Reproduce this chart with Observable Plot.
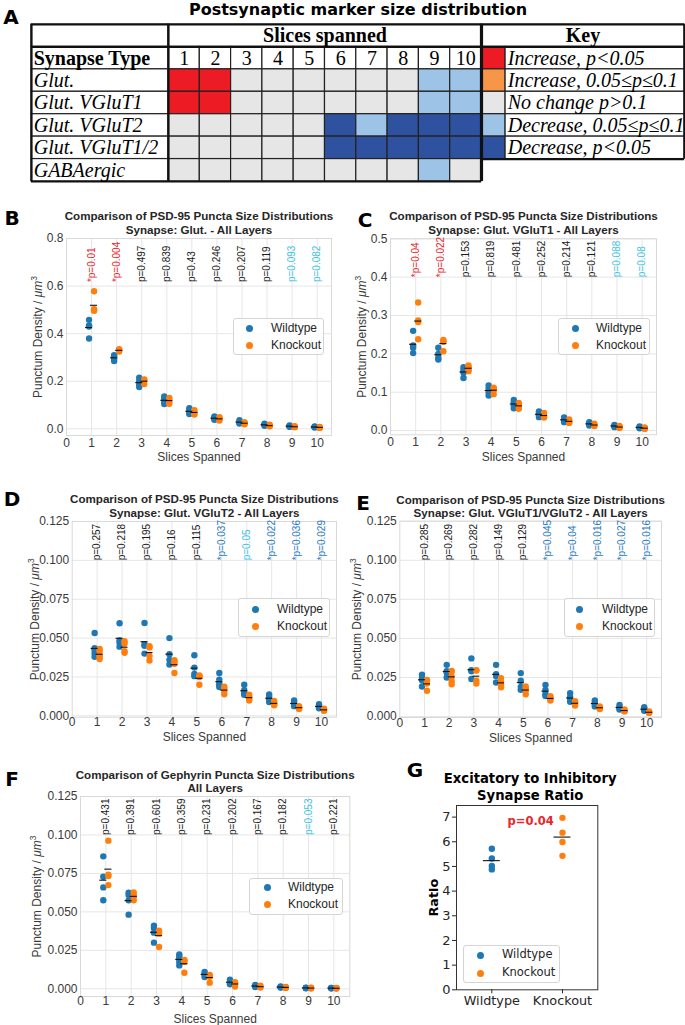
<!DOCTYPE html>
<html>
<head>
<meta charset="utf-8">
<script src="https://cdn.jsdelivr.net/npm/d3@7"></script>
<script src="https://cdn.jsdelivr.net/npm/@observablehq/plot@0.6"></script>
<style>
html,body{margin:0;padding:0;background:#fff;}
#page{position:relative;width:685px;height:1025px;overflow:hidden;background:#fff;}
#page svg{position:absolute;overflow:visible;}
.letter{position:absolute;font-family:"DejaVu Sans",sans-serif;font-weight:bold;font-size:20px;line-height:20px;color:#000;transform:translate(-50%,-50%);}
.legend{position:absolute;box-sizing:border-box;border:1px solid #d4d4d4;border-radius:3px;background:rgba(255,255,255,0.85);}
.legend .dot{position:absolute;width:7px;height:7px;border-radius:50%;}
.legend .txt{position:absolute;line-height:1;white-space:nowrap;color:#262626;}
</style>
</head>
<body>
<div id="page"></div>
<script>
// ---------------- DATA ----------------
const slices = [1,2,3,4,5,6,7,8,9,10];
const genotypes = ["Wildtype","Knockout"];
const genotypeColors = ["#1f77b4","#ff7f0e"];

const synapseTypes = ["Glut.","Glut. VGluT1","Glut. VGluT2","Glut. VGluT1/2","GABAergic"];
const keyLabels = ["Increase, p<0.05","Increase, 0.05≤p≤0.1","No change p>0.1","Decrease, 0.05≤p≤0.1","Decrease, p<0.05"];
const keyColors = ["#ed1c24","#f79646","#e6e6e6","#9dc3e6","#2f52a0"];

// B: Glut.
const glutWT = [[0.458,0.435,0.43,0.38],[0.31,0.305,0.295,0.285],[0.215,0.2,0.185,0.176],[0.136,0.127,0.113,0.104],[0.087,0.078,0.068,0.062],[0.052,0.047,0.042,0.038],[0.036,0.03,0.025,0.022],[0.022,0.018,0.015,0.013],[0.014,0.012,0.01,0.009],[0.01,0.008,0.007,0.006]];
const glutKO = [[0.578,0.503,0.5,0.496],[0.335,0.332,0.328,0.325],[0.208,0.205,0.2,0.188],[0.13,0.125,0.115,0.105],[0.078,0.072,0.065,0.06],[0.049,0.044,0.04,0.035],[0.028,0.025,0.022,0.019],[0.017,0.014,0.012,0.011],[0.011,0.009,0.008,0.007],[0.008,0.006,0.005,0.005]];
const glutP = ["0.01","0.004","0.497","0.839","0.43","0.246","0.207","0.119","0.093","0.082"];

// C: Glut. VGluT1
const vglut1WT = [[0.26,0.222,0.216,0.202],[0.216,0.2,0.19,0.185],[0.165,0.158,0.151,0.137],[0.1175,0.109,0.1,0.0914],[0.08,0.074,0.065,0.058],[0.05,0.045,0.04,0.035],[0.034,0.03,0.026,0.022],[0.022,0.019,0.016,0.013],[0.015,0.013,0.011,0.009],[0.011,0.009,0.007,0.006]];
const vglut1KO = [[0.334,0.287,0.283,0.238],[0.236,0.232,0.232,0.207],[0.17,0.165,0.16,0.155],[0.112,0.108,0.106,0.095],[0.072,0.067,0.062,0.057],[0.046,0.04,0.037,0.034],[0.029,0.025,0.022,0.02],[0.018,0.015,0.013,0.012],[0.012,0.01,0.008,0.007],[0.008,0.007,0.005,0.005]];
const vglut1P = ["0.04","0.022","0.153","0.819","0.481","0.252","0.214","0.121","0.088","0.08"];

// D: Glut. VGluT2
const vglut2WT = [[0.0533,0.0435,0.042,0.040,0.038],[0.0595,0.0485,0.047,0.0445],[0.0597,0.046,0.045,0.040],[0.05,0.0396,0.036,0.033],[0.039,0.031,0.027,0.0255],[0.0275,0.0233,0.021,0.0195,0.0185],[0.02,0.0165,0.0145,0.0135],[0.0138,0.0121,0.0104,0.0089],[0.0098,0.0085,0.0072,0.0062],[0.0075,0.0064,0.0055,0.0048]];
const vglut2KO = [[0.043,0.0415,0.039,0.038,0.0365],[0.048,0.0465,0.0415,0.0405],[0.0447,0.044,0.0385,0.0355],[0.0357,0.0347,0.0335,0.0275],[0.026,0.0255,0.025,0.02],[0.0187,0.0175,0.016,0.0138],[0.0135,0.0122,0.0112,0.0098],[0.0095,0.0082,0.0075,0.0068],[0.0062,0.0055,0.005,0.0043],[0.0045,0.004,0.0036,0.0032]];
const vglut2P = ["0.257","0.218","0.195","0.16","0.115","0.037","0.05","0.022","0.036","0.029"];

// E: Glut. VGluT1/VGluT2
const vglut12WT = [[0.0268,0.025,0.0232,0.0192],[0.0331,0.029,0.0282,0.025],[0.0372,0.0297,0.029,0.024],[0.0331,0.0271,0.026,0.0218],[0.0278,0.0229,0.019,0.0172],[0.0203,0.017,0.0145,0.0132],[0.015,0.0125,0.0105,0.0095],[0.0103,0.0088,0.0078,0.0065],[0.0075,0.0062,0.0052,0.0045],[0.006,0.005,0.0042,0.0037]];
const vglut12KO = [[0.0235,0.0225,0.0212,0.0165],[0.0292,0.0288,0.0255,0.0228,0.0207],[0.0297,0.0295,0.0229,0.0212],[0.0246,0.0222,0.0207,0.0188],[0.0192,0.018,0.0165,0.0142],[0.013,0.0122,0.011,0.0102],[0.0098,0.009,0.0082,0.007],[0.0065,0.006,0.0053,0.0048],[0.0045,0.004,0.0036,0.0033],[0.0033,0.0028,0.0025,0.0024]];
const vglut12P = ["0.285","0.269","0.282","0.149","0.129","0.045","0.04","0.016","0.027","0.016"];

// F: GABAergic (Gephyrin)
const gabaWT = [[0.0861,0.0728,0.0659,0.0576],[0.0625,0.061,0.0575,0.0482],[0.041,0.0395,0.0365,0.03],[0.0224,0.021,0.0195,0.0174,0.0152],[0.011,0.0098,0.009,0.0077],[0.006,0.0045,0.0037,0.003],[0.0025,0.002,0.0016,0.0012],[0.0015,0.0012,0.001,0.0008],[0.0008,0.0006,0.0005,0.0004],[0.0006,0.0005,0.0004,0.0003]];
const gabaKO = [[0.0963,0.0741,0.0733,0.0674],[0.0626,0.0605,0.0598,0.0575],[0.0378,0.0372,0.036,0.0272],[0.0188,0.0185,0.0175,0.0104],[0.009,0.0085,0.0078,0.004],[0.0043,0.0038,0.003,0.0015],[0.002,0.0016,0.0012,0.0008],[0.0012,0.001,0.0008,0.0006],[0.0007,0.0005,0.0004,0.0003],[0.0005,0.0004,0.0003,0.0002]];
const gabaP = ["0.431","0.391","0.601","0.359","0.231","0.202","0.167","0.182","0.053","0.221"];

// G: Excitatory / inhibitory ratio
const ratioWT = [5.72,5.32,5.02,4.88];
const ratioKO = [6.97,6.37,5.99,5.43];
const ratioP = "0.04";

// ---------------- STYLE ----------------
const SANS = '"Liberation Sans", Arial, sans-serif';
const SERIF = '"Liberation Serif", "Times New Roman", serif';
const DEJAVU = '"DejaVu Sans", sans-serif';
const RED = "#e8262b", BLUE = "#2a7ac0", CYAN = "#41c3e2", DARK = "#1a1a1a";
const GRID = "#e6e6e6", FRAME = "#d9d9d9", INK = "#3a3a3a", TITLEINK = "#262626";
const YLAB = "Punctum Density / μm³";
const page = document.getElementById("page");

function place(svg, left, top){ svg.style.left = left + "px"; svg.style.top = top + "px"; page.appendChild(svg); return svg; }
function letter(ch, x, y){ const d = document.createElement("div"); d.className = "letter"; d.textContent = ch; d.style.left = x + "px"; d.style.top = y + "px"; page.appendChild(d); }
function addLegend(b, fam, fs){
  const div = document.createElement("div"); div.className = "legend";
  Object.assign(div.style, {left: b.x + "px", top: b.y + "px", width: b.w + "px", height: b.h + "px"});
  genotypes.forEach((g, i) => {
    const dot = document.createElement("div"); dot.className = "dot";
    Object.assign(dot.style, {left: (b.dx - 4.5) + "px", top: (b.r[i] - 4.5) + "px", background: genotypeColors[i]});
    const t = document.createElement("div"); t.className = "txt"; t.textContent = g;
    Object.assign(t.style, {left: (b.tx - 1) + "px", top: (b.r[i] - 1) + "px", fontFamily: fam, fontSize: fs + "px", transform: "translateY(-50%)"});
    div.append(dot, t);
  });
  page.appendChild(div);
}
function statusOf(p, up){ return p < 0.05 ? (up ? 0 : 4) : (p <= 0.1 ? (up ? 1 : 3) : 2); }
function italicUnit(svg){
  svg.querySelectorAll("text").forEach(t => {
    if (t.textContent === YLAB) {
      t.textContent = "Punctum Density / ";
      const ns = "http://www.w3.org/2000/svg";
      const a = document.createElementNS(ns, "tspan"); a.setAttribute("font-style", "italic"); a.textContent = "μm";
      const b = document.createElementNS(ns, "tspan"); b.setAttribute("dy", "-5"); b.setAttribute("font-size", "8.5"); b.textContent = "3";
      t.append(a, b);
    }
  });
}

// ---------------- PANEL A ----------------
const X0 = 0.5 - 4.377, X1 = 10.5 + 6.486, SW = 0.77;
const tablePanels = [
  {wt: glutWT, ko: glutKO, p: glutP},
  {wt: vglut1WT, ko: vglut1KO, p: vglut1P},
  {wt: vglut2WT, ko: vglut2KO, p: vglut2P},
  {wt: vglut12WT, ko: vglut12KO, p: vglut12P},
  {wt: gabaWT, ko: gabaKO, p: gabaP}
];
const cells = [];
tablePanels.forEach((d, r) => slices.forEach((s, i) => cells.push({
  col: s, row: r + 2,
  fill: keyColors[statusOf(+d.p[i], d3.mean(d.ko[i]) > d3.mean(d.wt[i]))]
})));
const cellStroke = {stroke: "#222", strokeWidth: 1.2};
const tText = {fontFamily: SERIF, fontSize: 20, fill: "#000", ariaLabel: "tabletext"};
const aSvg = Plot.plot({
  width: 685, height: 185, marginLeft: 31, marginRight: 1, marginTop: 24, marginBottom: 4,
  x: {domain: [X0, X1], axis: null}, y: {domain: [0, 7], reverse: true, axis: null},
  color: {type: "identity"},
  style: {background: "transparent", overflow: "visible"},
  marks: [
    Plot.rect(d3.range(0, 7), {x1: () => X0, x2: () => 0.5, y1: d => d, y2: d => d + 1, fill: "white", ...cellStroke}),
    Plot.rect([0], {x1: () => 0.5, x2: () => 10.5, y1: () => 0, y2: () => 1, fill: "white", ...cellStroke}),
    Plot.rect([0], {x1: () => 10.5, x2: () => X1, y1: () => 0, y2: () => 1, fill: "white", ...cellStroke}),
    Plot.rect(slices, {x1: d => d - 0.5, x2: d => d + 0.5, y1: () => 1, y2: () => 2, fill: "white", ...cellStroke}),
    Plot.rect(cells, {x1: d => d.col - 0.5, x2: d => d.col + 0.5, y1: "row", y2: d => d.row + 1, fill: "fill", ...cellStroke}),
    Plot.rect(keyLabels, {x1: () => 10.5, x2: () => 10.5 + SW, y1: (d, i) => i + 1, y2: (d, i) => i + 2, fill: (d, i) => keyColors[i], ...cellStroke}),
    Plot.rect(keyLabels, {x1: () => 10.5 + SW, x2: () => X1, y1: (d, i) => i + 1, y2: (d, i) => i + 2, fill: "white", ...cellStroke}),
    Plot.ruleX([X0, 0.5], {y1: () => 0, y2: () => 7, stroke: "#111", strokeWidth: 2.2}),
    Plot.ruleX([10.5], {y1: () => 0, y2: () => 7, stroke: "#111", strokeWidth: 3.2}),
    Plot.ruleX([X1], {y1: () => 0, y2: () => 6, stroke: "#111", strokeWidth: 2.2}),
    Plot.ruleY([0, 1], {x1: () => X0, x2: () => X1, stroke: "#111", strokeWidth: 2.2}),
    Plot.ruleY([6], {x1: () => 10.5, x2: () => X1, stroke: "#111", strokeWidth: 2.2}),
    Plot.ruleY([7], {x1: () => X0, x2: () => 10.5, stroke: "#111", strokeWidth: 2.2}),
    Plot.text(["Slices spanned"], {x: () => 5.5, y: () => 0.5, fontWeight: "bold", ...tText}),
    Plot.text(["Key"], {x: () => (10.5 + X1) / 2, y: () => 0.5, fontWeight: "bold", ...tText}),
    Plot.text(["Synapse Type"], {x: () => X0 + 0.07, y: () => 1.5, textAnchor: "start", fontWeight: "bold", ...tText}),
    Plot.text(slices, {x: d => d, y: () => 1.5, text: d => String(d), ...tText}),
    Plot.text(synapseTypes, {x: () => X0 + 0.07, y: (d, i) => i + 2.5, textAnchor: "start", fontStyle: "italic", ...tText}),
    Plot.text(keyLabels, {x: () => 10.5 + SW + 0.07, y: (d, i) => i + 1.5, textAnchor: "start", fontStyle: "italic", ...tText}),
    Plot.text(["Postsynaptic marker size distribution"], {frameAnchor: "top", dy: -15, lineAnchor: "middle", fontFamily: DEJAVU, fontWeight: "bold", fontSize: 16, fill: "#000"})
  ]
});
place(aSvg, 0, 0);
aSvg.querySelectorAll('g[aria-label="tabletext"] text').forEach(t => {
  const L = t.getComputedTextLength();
  if (L > 0) { t.setAttribute("textLength", (L * 0.93).toFixed(1)); t.setAttribute("lengthAdjust", "spacingAndGlyphs"); }
});

// ---------------- PANELS B-F ----------------
function slicePanel(c){
  const L = c.box;
  const pts = [], means = [];
  slices.forEach((s, i) => {
    c.wt[i].forEach(v => pts.push({x: s - 0.1, y: v, g: 0}));
    c.ko[i].forEach(v => pts.push({x: s + 0.1, y: v, g: 1}));
    means.push({x: s - 0.1, y: d3.mean(c.wt[i])}, {x: s + 0.1, y: d3.mean(c.ko[i])});
  });
  const labels = slices.map((s, i) => {
    const p = +c.p[i], up = d3.mean(c.ko[i]) > d3.mean(c.wt[i]);
    return {x: s, t: (p < 0.05 ? "*" : "") + "p=" + c.p[i], col: p < 0.05 ? (up ? RED : BLUE) : (p <= 0.1 ? CYAN : DARK)};
  });
  const svg = Plot.plot({
    width: L.w, height: L.h,
    marginLeft: L.fl - L.left, marginRight: L.left + L.w - L.fr,
    marginTop: L.ft - L.top, marginBottom: L.top + L.h - L.fb,
    x: {domain: [0, c.xmax]}, y: {domain: c.ydom}, color: {type: "identity"},
    style: {fontFamily: SANS, fontSize: "12px", color: INK, background: "transparent", overflow: "visible"},
    marks: [
      Plot.gridX(d3.range(1, 11), {stroke: GRID, strokeOpacity: 1}),
      Plot.gridY(c.yticks, {stroke: GRID, strokeOpacity: 1}),
      Plot.frame({stroke: FRAME}),
      Plot.axisX(d3.range(0, 11), {tickSize: 0, tickPadding: c.padX, fontSize: 12, label: null}),
      Plot.axisY(c.yticks, {tickSize: 0, tickPadding: 3, fontSize: 12, label: null, tickFormat: c.fmt}),
      Plot.dot(pts, {x: "x", y: "y", r: 3.2, fill: d => genotypeColors[d.g]}),
      Plot.ruleY(means, {x1: d => d.x - 0.14, x2: d => d.x + 0.14, y: "y", stroke: "#111", strokeWidth: 1.1}),
      Plot.text(labels, {x: "x", y: () => c.pAt, text: "t", fill: "col", rotate: -90, textAnchor: "start", lineAnchor: "middle", fontSize: 10, dy: c.pDy}),
      Plot.text([c.title[0]], {frameAnchor: "top", dy: L.t1 - L.ft, lineAnchor: "middle", fontWeight: "bold", fontSize: 11.6, fill: TITLEINK}),
      Plot.text([c.title[1]], {frameAnchor: "top", dy: L.t2 - L.ft, lineAnchor: "middle", fontWeight: "bold", fontSize: 11.6, fill: TITLEINK}),
      Plot.text(["Slices Spanned"], {frameAnchor: "bottom", dy: L.xl - L.fb, lineAnchor: "middle", fontSize: 12, fill: INK}),
      Plot.text([YLAB], {frameAnchor: "left", dx: L.yl - L.fl, rotate: -90, textAnchor: "middle", lineAnchor: "middle", fontSize: 12, fill: INK})
    ]
  });
  italicUnit(svg);
  place(svg, L.left, L.top);
}
const fmt1 = d3.format(".1f"), fmt3 = d3.format(".3f");
const psdTitle = "Comparison of PSD-95 Puncta Size Distributions";
const smallTicks = [0, 0.025, 0.05, 0.075, 0.1, 0.125];

slicePanel({wt: glutWT, ko: glutKO, p: glutP, title: [psdTitle, "Synapse: Glut. - All Layers"],
  ydom: [-0.028, 0.8], yticks: [0, 0.2, 0.4, 0.6, 0.8], fmt: fmt1, xmax: 10.57, pAt: 0.6, pDy: -4, padX: 2.5,
  box: {left: 0, top: 200, w: 342, h: 265, fl: 66, fr: 331, ft: 238, fb: 435, t1: 216.2, t2: 229.6, xl: 456.7, yl: 38}});
slicePanel({wt: vglut1WT, ko: vglut1KO, p: vglut1P, title: [psdTitle, "Synapse: Glut. VGluT1 - All Layers"],
  ydom: [-0.011, 0.5], yticks: [0, 0.1, 0.2, 0.3, 0.4, 0.5], fmt: fmt1, xmax: 10.57, pAt: 0.4, pDy: 0, padX: 3,
  box: {left: 342, top: 200, w: 343, h: 265, fl: 390, fr: 656, ft: 238.3, fb: 434.3, t1: 216.2, t2: 229.6, xl: 456.7, yl: 361.7}});
slicePanel({wt: vglut2WT, ko: vglut2KO, p: vglut2P, title: [psdTitle, "Synapse: Glut. VGluT2 - All Layers"],
  ydom: [-0.0009, 0.125], yticks: smallTicks, fmt: fmt3, xmax: 10.6, pAt: 0.1, pDy: 0, padX: 0,
  box: {left: 0, top: 490, w: 342, h: 265, fl: 71.7, fr: 336, ft: 521, fb: 716.7, t1: 498.3, t2: 512.7, xl: 736.7, yl: 35}});
slicePanel({wt: vglut12WT, ko: vglut12KO, p: vglut12P, title: [psdTitle, "Synapse: Glut. VGluT1/VGluT2 - All Layers"],
  ydom: [-0.0006, 0.125], yticks: smallTicks, fmt: fmt3, xmax: 10.6, pAt: 0.1, pDy: 0, padX: 0.5,
  box: {left: 342, top: 490, w: 343, h: 265, fl: 399.3, fr: 661, ft: 520.7, fb: 717, t1: 499.3, t2: 512.9, xl: 737.3, yl: 356.7}});
slicePanel({wt: gabaWT, ko: gabaKO, p: gabaP, title: ["Comparison of Gephyrin Puncta Size Distributions", "All Layers"],
  ydom: [-0.005, 0.125], yticks: smallTicks, fmt: fmt3, xmax: 10.63, pAt: 0.1, pDy: 0, padX: 0,
  box: {left: 0, top: 760, w: 360, h: 265, fl: 80, fr: 349.3, ft: 796, fb: 996, t1: 774.3, t2: 787.8, xl: 1018.3, yl: 36.7}});

// ---------------- PANEL G ----------------
(function(){
  const L = {left: 400, top: 750, w: 285, h: 275, fl: 456, fr: 597.3, ft: 805, fb: 989.3};
  const pts = [...ratioWT.map(v => ({x: 0, y: v, g: 0})), ...ratioKO.map(v => ({x: 1, y: v, g: 1}))];
  const means = [{x: 0, y: d3.mean(ratioWT)}, {x: 1, y: d3.mean(ratioKO)}];
  const up = d3.mean(ratioKO) > d3.mean(ratioWT);
  const svg = Plot.plot({
    width: L.w, height: L.h,
    marginLeft: L.fl - L.left, marginRight: L.left + L.w - L.fr,
    marginTop: L.ft - L.top, marginBottom: L.top + L.h - L.fb,
    x: {domain: [-0.5, 1.5]}, y: {domain: [0, 7.47]}, color: {type: "identity"},
    style: {fontFamily: DEJAVU, fontSize: "13px", color: "#262626", background: "transparent", overflow: "visible"},
    marks: [
      Plot.frame({stroke: "#333", strokeWidth: 1}),
      Plot.axisX([0, 1], {tickFormat: i => genotypes[i], tickSize: 4, tickPadding: 2, fontSize: 12.8, label: null}),
      Plot.axisY(d3.range(0, 8), {tickSize: 4, tickPadding: 2, fontSize: 13, label: null}),
      Plot.dot(pts, {x: "x", y: "y", r: 3.2, fill: d => genotypeColors[d.g]}),
      Plot.ruleY(means, {x1: d => d.x - 0.12, x2: d => d.x + 0.12, y: "y", stroke: "#111", strokeWidth: 1.1}),
      Plot.text(["p=" + ratioP], {x: () => 0.55, y: () => 6.84, fill: +ratioP < 0.05 ? (up ? RED : BLUE) : DARK, fontWeight: "bold", fontSize: 11.5}),
      Plot.text(["Excitatory to Inhibitory"], {frameAnchor: "top", dx: 3, dy: -27, lineAnchor: "middle", fontWeight: "bold", fontSize: 13.2, fill: "#000"}),
      Plot.text(["Synapse Ratio"], {frameAnchor: "top", dx: 3, dy: -10, lineAnchor: "middle", fontWeight: "bold", fontSize: 13.2, fill: "#000"}),
      Plot.text(["Ratio"], {frameAnchor: "left", dx: -23, rotate: -90, textAnchor: "middle", lineAnchor: "middle", fontWeight: "bold", fontSize: 12.8, fill: "#000"})
    ]
  });
  place(svg, L.left, L.top);
})();

// ---------------- LEGENDS & LETTERS ----------------
addLegend({x: 233, y: 318, w: 91, h: 37, dx: 16, tx: 38, r: [10, 27]}, SANS, 12);
addLegend({x: 558, y: 318, w: 92, h: 37, dx: 17, tx: 38, r: [10, 27]}, SANS, 12);
addLegend({x: 238, y: 598, w: 92, h: 39, dx: 17, tx: 39, r: [11, 28]}, SANS, 12);
addLegend({x: 564, y: 598, w: 91, h: 39, dx: 15, tx: 38, r: [11, 28]}, SANS, 12);
addLegend({x: 249, y: 878, w: 94, h: 37, dx: 18, tx: 39, r: [9, 26]}, SANS, 12);
addLegend({x: 463, y: 945, w: 97, h: 38, dx: 17, tx: 39, r: [10, 28]}, DEJAVU, 11.5);

letter("A", 11, 17);
letter("B", 12, 218);
letter("C", 365, 220);
letter("D", 12, 499);
letter("E", 363, 503);
letter("F", 12, 779);
letter("G", 415, 770);
</script>
</body>
</html>
